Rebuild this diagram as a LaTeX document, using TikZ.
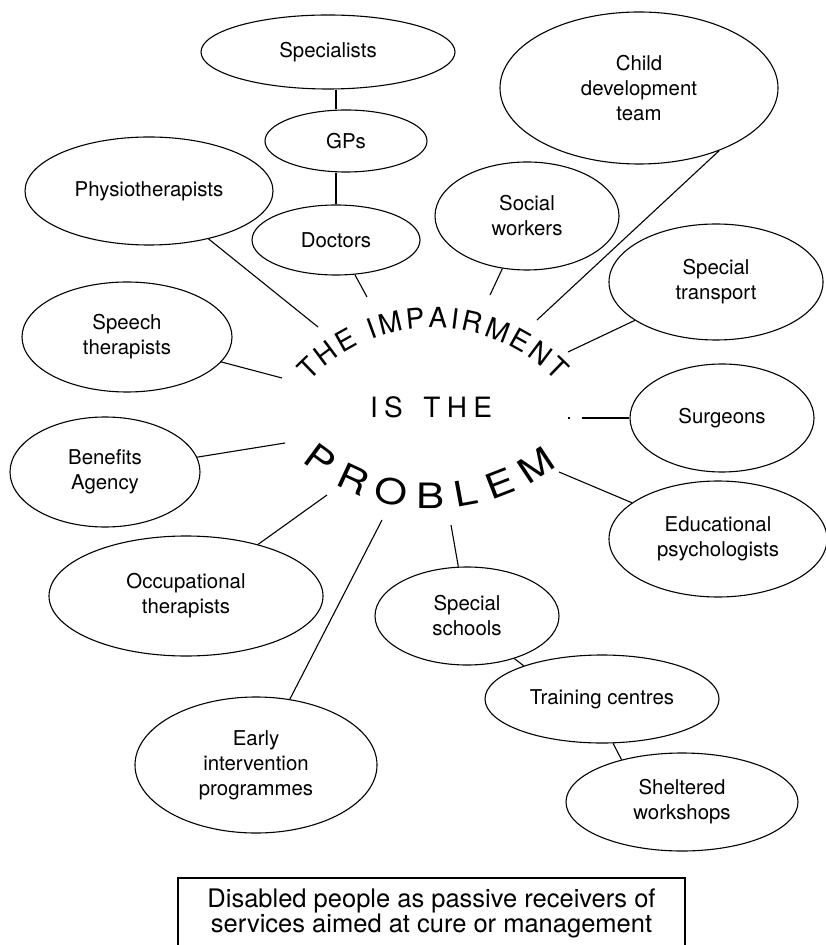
\documentclass[tikz,border=0pt]{standalone}
\usepackage{fontspec}
\setmainfont{TeX Gyre Heros}
\newfontfamily\wideheros[FakeStretch=1.2]{TeX Gyre Heros}
\usetikzlibrary{shapes.geometric, decorations.text}

\newcommand{\labelfont}{\fontsize{10.2}{12.5}\selectfont}
\newcommand{\arcfont}{\fontsize{14}{15}\selectfont}
\newcommand{\problemfont}{\wideheros\fontsize{17.5}{18}\selectfont}
\newcommand{\captionfont}{\fontsize{12.75}{12.5}\selectfont}

\begin{document}
\begin{tikzpicture}[x=0.5pt, y=-0.5pt, line width=0.55pt,
  bubble/.style={ellipse, draw, inner sep=0pt, align=center, font=\labelfont},
  caption/.style={inner sep=0pt, align=center, font=\captionfont}]
  \useasboundingbox (0,0) rectangle (825,945);

  \node[bubble, minimum width=127pt, minimum height=37pt] (spec) at (328,52) {Specialists};
  \node[bubble, minimum width=81pt, minimum height=31pt] (gps) at (346,141) {GPs};
  \node[bubble, minimum width=84pt, minimum height=35pt] (docs) at (336,240) {Doctors};
  \node[bubble, minimum width=124pt, minimum height=54pt] (physio) at (149,191) {Physiotherapists};
  \node[bubble, minimum width=92pt, minimum height=54pt] (social) at (527,216) {Social\\workers};
  \node[bubble, minimum width=139pt, minimum height=76pt] (cdt) at (639,88) {Child\\development\\team};
  \node[bubble, minimum width=107pt, minimum height=58pt] (transport) at (716,282) {Special\\transport};
  \node[bubble, minimum width=105pt, minimum height=55pt] (speech) at (127,337) {Speech\\therapists};
  \node[bubble, minimum width=95pt, minimum height=55pt] (benefits) at (105,472) {Benefits\\Agency};
  \node[bubble, minimum width=92pt, minimum height=54pt] (surgeons) at (722,418) {Surgeons};
  \node[bubble, minimum width=109pt, minimum height=58pt] (edu) at (718,539) {Educational\\psychologists};
  \node[bubble, minimum width=137pt, minimum height=60pt] (occ) at (186,596) {Occupational\\therapists};
  \node[bubble, minimum width=92pt, minimum height=49pt] (ss) at (467,616) {Special\\schools};
  \node[bubble, minimum width=117pt, minimum height=44pt] (tc) at (602,699) {Training centres};
  \node[bubble, minimum width=121pt, minimum height=68pt] (early) at (256,765) {Early\\intervention\\programmes};
  \node[bubble, minimum width=116pt, minimum height=49pt] (sw) at (682,802) {Sheltered\\workshops};

  \coordinate (e-physio) at (318,327);
  \coordinate (e-docs) at (367,297);
  \coordinate (e-social) at (490,295);
  \coordinate (e-cdt) at (537,320);
  \coordinate (e-transport) at (568,352);
  \coordinate (e-surgeons) at (582,418);
  \coordinate (e-edu) at (559,472);
  \coordinate (e-ss) at (451,525);
  \coordinate (e-early) at (382,520);
  \coordinate (e-occ) at (327,495);
  \coordinate (e-benefits) at (285,443);
  \coordinate (e-speech) at (282,378);

  \foreach \n in {physio, docs, social, transport, surgeons, edu, ss, early, occ, benefits, speech}
    \draw (\n) -- (e-\n);
  \draw (cdt.-38) -- (e-cdt);
  \draw (spec.south -| docs.north) -- (gps.north -| docs.north);
  \draw (gps.south -| docs.north) -- (docs.north);
  \draw (ss.-42) -- (tc.157);
  \draw (tc.-76) -- (sw.145);
  \draw (569,417) -- (569,419);

  \path[decorate, decoration={text along path, text={|\arcfont|THE IMPAIRMENT}, text align={fit to path}}]
    (309.4,381.7) .. controls (376.2,310.1) and (489.8,310.1) .. (556.6,381.7);
  \path[decorate, decoration={text along path, text={|\arcfont|IS THE}, text align={fit to path}}]
    (370,417) -- (492,417);
  \path[decorate, decoration={text along path, text={|\problemfont|PROBLEM}, text align={fit to path}}]
    (301.5,460.8) .. controls (374.7,523.3) and (481.8,525.2) .. (557.1,465.3);

  \node[caption] (caption) at (431.5,913) {Disabled people as passive receivers of\\services aimed at cure or management};
  \draw (178,945) |- (685,878) -- (685,945);
\end{tikzpicture}
\end{document}
